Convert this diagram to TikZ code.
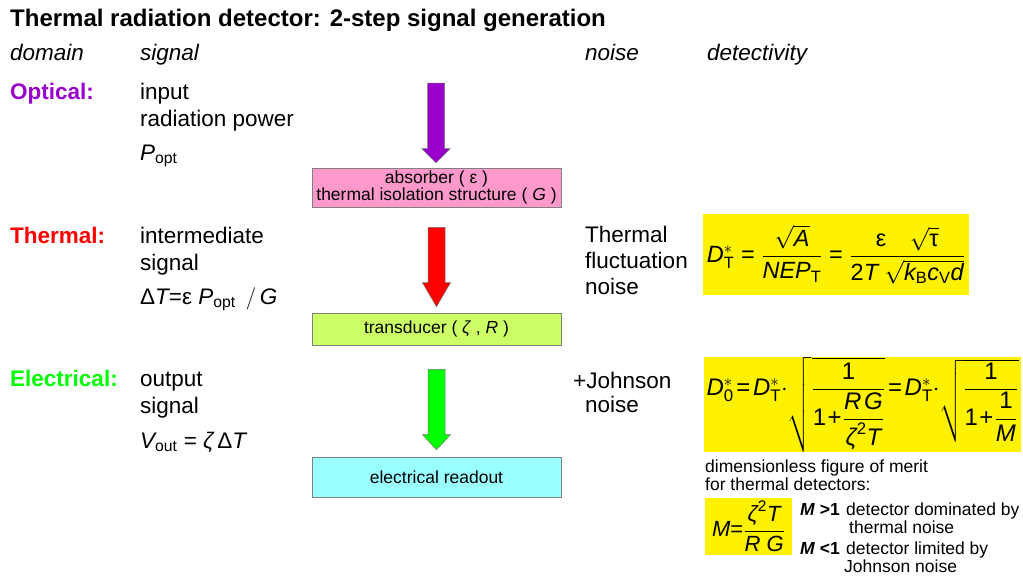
\documentclass[tikz,border=0pt]{standalone}
\usepackage{fix-cm}
\usepackage{amsmath}
\usepackage{fontspec}
\setmainfont{Liberation Sans}
\usetikzlibrary{calc}
\definecolor{optpurple}{HTML}{9900CC}
\definecolor{thermred}{HTML}{FF0000}
\definecolor{elecgreen}{HTML}{00FF00}
\definecolor{absorbpink}{HTML}{FF99CC}
\definecolor{transgreen}{HTML}{CCFF66}
\definecolor{readcyan}{HTML}{99FFFF}
\newcommand{\eqs}{\mathrel{\text{=}}}
\newcommand{\pls}{\mathbin{\text{+}}}
\tikzset{
  lbl/.style={anchor=base west,inner sep=0pt,font=\fontsize{22.5}{26}\selectfont},
  hdr/.style={lbl,font=\fontsize{22.5}{26}\selectfont\itshape},
  dom/.style={lbl,font=\fontsize{22.5}{26}\selectfont\bfseries},
  small/.style={anchor=base west,inner sep=0pt,font=\fontsize{17.5}{20}\selectfont},
  stage/.style={draw=gray,line width=0.6pt,minimum width=249pt,inner sep=0pt,align=center,font=\fontsize{17.5}{16}\selectfont},
  formula/.style={fill=yellow,inner sep=0pt,font=\fontsize{22}{26}\selectfont},
  barrow/.style={draw=black!55,line width=0.5pt}
}
\newcommand{\blockarrow}[4]{%
  \draw[barrow,fill=#1] let \p1=(#2), \p2=(#3) in
    (\x1-8.5pt,\y1) -- (\x1+8.5pt,\y1) -- (\x1+8.5pt,\y2+#4) -- (\x1+14pt,\y2+#4)
    -- (\x1,\y2) -- (\x1-14pt,\y2+#4) -- (\x1-8.5pt,\y2+#4) -- cycle;}

\begin{document}
\begin{tikzpicture}[x=1pt,y=-1pt]
\useasboundingbox (0,0) rectangle (1023,581);
\node[lbl,font=\fontsize{24}{28}\selectfont\bfseries](title)at(10,26){Thermal radiation detector: 2-step signal generation};
\node[hdr](hdomain)at(10,60){domain};
\node[hdr](hsignal)at(140,60){signal};
\node[hdr](hnoise)at(585,60){noise};
\node[hdr](hdetect)at(707,60){detectivity};

\node[dom,text=optpurple](optical)at(10,99){Optical:};
\node[lbl](sig1a)at(140,99){input};
\node[lbl](sig1b)at(140,126){radiation power};
\node[lbl](sig1c)at(140,160){$\mathit{P}_{\mathrm{opt}}$};

\node[dom,text=thermred](thermal)at(10,243){Thermal:};
\node[lbl](sig2a)at(140,243){intermediate};
\node[lbl](sig2b)at(140,270){signal};
\node[lbl](sig2c)at(140,304){$\text{Δ}\mathit{T}{\eqs}\text{ε}\;\mathit{P}_{\mathrm{opt}}\;\,/\,\mathit{G}$};

\node[dom,text=elecgreen](electrical)at(10,386){Electrical:};
\node[lbl](sig3a)at(140,386){output};
\node[lbl](sig3b)at(140,413){signal};
\node[lbl](sig3c)at(140,448){$\mathit{V}_{\mathrm{out}}\eqs\textit{ζ}\,\text{Δ}\mathit{T}$};

\node[lbl](noise1a)at(585,242){Thermal};
\node[lbl](noise1b)at(585,268){fluctuation};
\node[lbl](noise1c)at(585,294){noise};
\node[lbl](noise2a)at(573,388){+Johnson};
\node[lbl](noise2b)at(585,412){noise};

\node[stage,fill=absorbpink,minimum height=39pt](absorber)at(436.5,187.5){absorber ( ε )\\thermal isolation structure ( \textit{G} )};
\node[stage,fill=transgreen,minimum height=32pt](transducer)at(436.5,329){transducer ( \textit{ζ} , \textit{R} )};
\node[stage,fill=readcyan,minimum height=40pt](readout)at(436.5,477){electrical readout};

\coordinate(src)at(436,83);
\blockarrow{optpurple}{src}{$(absorber.north)+(0,-5)$}{14pt}
\blockarrow{thermred}{$(absorber.south)+(0,20)$}{$(transducer.north)+(0,-6)$}{24pt}
\blockarrow{elecgreen}{$(transducer.south)+(0,24)$}{$(readout.north)+(0,-7)$}{15pt}

\node[formula,minimum width=266pt,minimum height=81pt](dtherm)at(836,254.5){\resizebox{258pt}{!}{$\mathit{D}^{\ast}_{\mathrm{T}}\eqs\dfrac{\sqrt{\mathit{A}}}{\mathit{NEP}_{\mathrm{T}}}\eqs\dfrac{\text{ε}\quad\sqrt{\text{τ}}}{\mathrm{2}\mathit{T}\;\sqrt{\mathit{k}_{\mathrm{B}}\mathit{c}_{\mathrm{V}}\mathit{d}}}$}};
\node[formula,minimum width=317pt,minimum height=95pt](dzero)at(862.5,404.5){\resizebox{312pt}{!}{\thickmuskip=2mu\medmuskip=1mu\thinmuskip=0mu$\mathit{D}^{\ast}_{\mathrm{0}}\eqs\mathit{D}^{\ast}_{\mathrm{T}}{\cdot}\!\sqrt{\dfrac{\mathrm{1}}{\mathrm{1}\pls\dfrac{\mathit{R}\;\mathit{G}}{\textit{ζ}^{\mathrm{2}}\mathit{T}}}}\eqs\mathit{D}^{\ast}_{\mathrm{T}}{\cdot}\!\sqrt{\dfrac{\mathrm{1}}{\mathrm{1}\pls\dfrac{\mathrm{1}}{\mathit{M}}}}$}};
\node[small](fom1)at(705,472){dimensionless figure of merit};
\node[small](fom2)at(705,490){for thermal detectors:};
\node[formula,minimum width=87pt,minimum height=57pt](merit)at(748.5,526.5){$\mathit{M}{\eqs}\dfrac{\textit{ζ}^{\mathrm{2}}\mathit{T}}{\mathit{R}\;\mathit{G}}$};
\node[small](mgt)at(800,515){\textbf{\textit{M} >1}};
\node[small](mgtt)at(846,515){detector dominated by};
\node[small](mgt2)at(849,533){thermal noise};
\node[small](mlt)at(800,554){\textbf{\textit{M} <1}};
\node[small](mltt)at(846,554){detector limited by};
\node[small](mlt2)at(844,572){Johnson noise};
\end{tikzpicture}
\end{document}
